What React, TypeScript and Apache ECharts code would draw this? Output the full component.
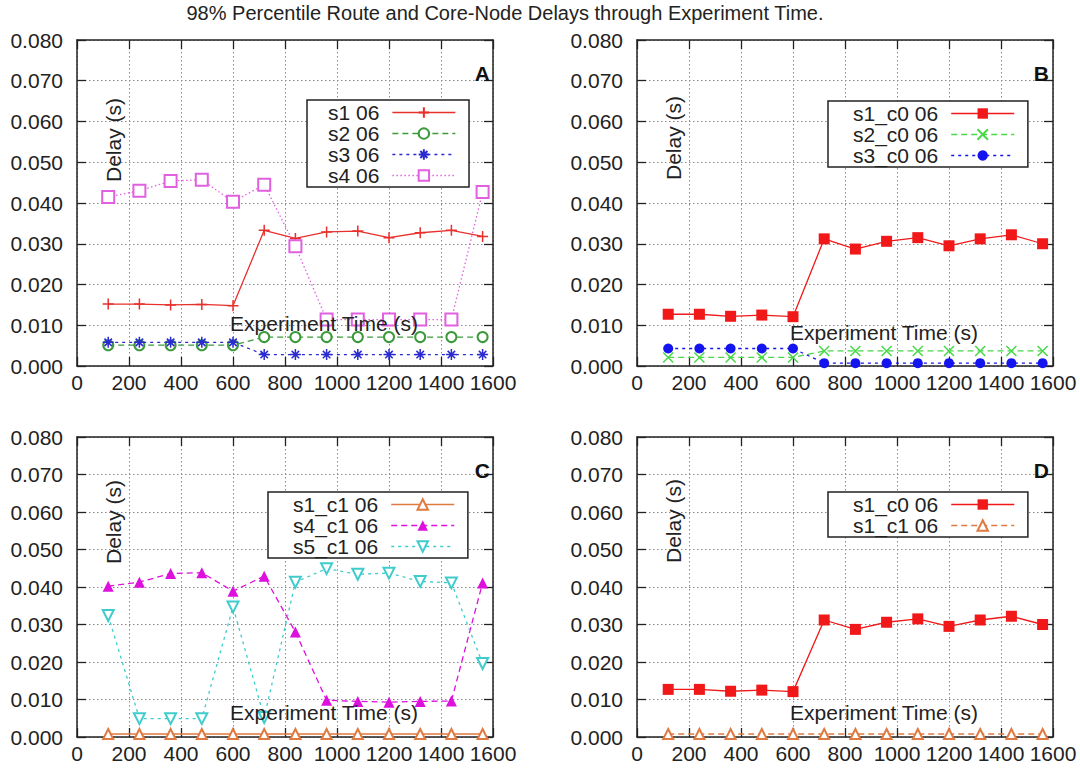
import React, { useEffect, useRef } from 'react';
import * as echarts from 'echarts';

// ---- data ----
const times = [120, 240, 360, 480, 600, 720, 840, 960, 1080, 1200, 1320, 1440, 1560];
const xTickLabels = ['0', '200', '400', '600', '800', '1000', '1200', '1400', '1600'];
const yTickLabels = ['0.000', '0.010', '0.020', '0.030', '0.040', '0.050', '0.060', '0.070', '0.080'];

// Panel A
const s1_06 = [0.0152, 0.0152, 0.0150, 0.0151, 0.0148, 0.0333, 0.0313, 0.0329, 0.0331, 0.0315, 0.0327, 0.0333, 0.0318];
const s2_06 = [0.0051, 0.0051, 0.0051, 0.0051, 0.0051, 0.0071, 0.0071, 0.0071, 0.0071, 0.0071, 0.0071, 0.0071, 0.0071];
const s3_06 = [0.0058, 0.0058, 0.0058, 0.0058, 0.0058, 0.0028, 0.0028, 0.0028, 0.0028, 0.0028, 0.0028, 0.0028, 0.0028];
const s4_06 = [0.0415, 0.0430, 0.0454, 0.0457, 0.0403, 0.0445, 0.0294, 0.0114, 0.0114, 0.0114, 0.0114, 0.0114, 0.0427];
// Panel B (and D)
const s1_c0_06 = [0.0127, 0.0127, 0.0122, 0.0125, 0.0121, 0.0312, 0.0287, 0.0306, 0.0315, 0.0295, 0.0312, 0.0322, 0.0300];
const s2_c0_06 = [0.0021, 0.0021, 0.0021, 0.0021, 0.0021, 0.0037, 0.0037, 0.0037, 0.0037, 0.0037, 0.0037, 0.0037, 0.0037];
const s3_c0_06 = [0.0043, 0.0043, 0.0043, 0.0043, 0.0043, 0.0007, 0.0007, 0.0007, 0.0007, 0.0007, 0.0007, 0.0007, 0.0007];
// Panel C (and D)
const s1_c1_06 = [0.0008, 0.0008, 0.0008, 0.0008, 0.0008, 0.0008, 0.0008, 0.0008, 0.0008, 0.0008, 0.0008, 0.0008, 0.0008];
const s4_c1_06 = [0.0402, 0.0413, 0.0436, 0.0438, 0.0389, 0.0429, 0.0280, 0.0098, 0.0095, 0.0093, 0.0095, 0.0096, 0.0411];
const s5_c1_06 = [0.0324, 0.0049, 0.0049, 0.0049, 0.0347, 0.0052, 0.0413, 0.0449, 0.0434, 0.0437, 0.0415, 0.0411, 0.0196];

const TITLE = '98% Percentile Route and Core-Node Delays through Experiment Time.';
const FONT = '"Liberation Sans", Arial, sans-serif';
const INK = '#222';

const PLUS = 'path://M0,5L10,5M5,0L5,10';
const STAR = 'path://M0,5L10,5M5,0L5,10M1.6,1.6L8.4,8.4M1.6,8.4L8.4,1.6';
const CROSS = 'path://M0,0L10,10M0,10L10,0';

const grids = [
  { left: 77, top: 40, width: 416, height: 326 },
  { left: 637, top: 40, width: 416, height: 326 },
  { left: 77, top: 437, width: 416, height: 300 },
  { left: 637, top: 437, width: 416, height: 300 },
];

const frameLine = { show: true, onZero: false, lineStyle: { color: INK, width: 1.5 } };
const inTick = { show: true, inside: true, length: 9, lineStyle: { color: INK, width: 1.3 } };
const gridLine = { show: true, lineStyle: { color: '#8a8a8a', width: 1, type: [1.5, 2.5] } };

function makeXAxes(i: number) {
  return [
    {
      type: 'value', gridIndex: i, min: 0, max: 1600, interval: 200, position: 'bottom',
      axisLine: frameLine, axisTick: inTick, splitLine: gridLine,
      axisLabel: {
        show: true, margin: 6, color: INK, fontSize: 21, fontFamily: FONT,
        formatter: (v: number) => xTickLabels[Math.round(v / 200)],
      },
    },
    {
      type: 'value', gridIndex: i, min: 0, max: 1600, interval: 200, position: 'top',
      axisLine: frameLine, axisTick: inTick, splitLine: { show: false }, axisLabel: { show: false },
    },
  ];
}

function makeYAxes(i: number) {
  return [
    {
      type: 'value', gridIndex: i, min: 0, max: 0.08, interval: 0.01, position: 'left',
      axisLine: frameLine, axisTick: inTick, splitLine: gridLine,
      axisLabel: {
        show: true, margin: 14, color: INK, fontSize: 21, fontFamily: FONT,
        formatter: (v: number) => yTickLabels[Math.round(v / 0.01)],
      },
    },
    {
      type: 'value', gridIndex: i, min: 0, max: 0.08, interval: 0.01, position: 'right',
      axisLine: frameLine, axisTick: inTick, splitLine: { show: false }, axisLabel: { show: false },
    },
  ];
}

function lineSeries(
  name: string, values: number[], panel: number, color: string, dash: any,
  symbol: string, extra: any = {}
) {
  const isPath = symbol.startsWith('path://');
  return {
    type: 'line', name,
    xAxisIndex: panel * 2, yAxisIndex: panel * 2,
    data: times.map((t, k) => [t, values[k]]),
    symbol, symbolSize: extra.symbolSize || 10, symbolRotate: extra.symbolRotate || 0,
    showSymbol: true,
    lineStyle: { color, width: 1.3, type: dash },
    itemStyle: isPath
      ? { color, borderColor: color, borderWidth: 1.5 }
      : { color, borderColor: color, borderWidth: extra.borderWidth ?? 1.5 },
    emphasis: { disabled: true },
    z: extra.z || 3,
  };
}

const RED = '#e8302c';
const RED2 = '#f01818';
const GREEN = '#3c9a3c';
const LGREEN = '#48d848';
const BLUE = '#2a2ad0';
const BLUE2 = '#1414ee';
const MAG = '#e060e0';
const MAG2 = '#dd10dd';
const ORANGE = '#e07a40';
const CYAN = '#40cccc';

const DASHED = [6, 4];
const DOTDASH = [3, 4];
const DOTTED = [1.5, 2.5];

function makeLegend(left: number, top: number, padLeft: number, data: any[]) {
  return {
    orient: 'vertical', left, top, align: 'right',
    itemWidth: 63, itemHeight: 13, itemGap: 0,
    padding: [2, 13, 1, padLeft],
    backgroundColor: '#fff', borderColor: INK, borderWidth: 1.5, borderRadius: 0,
    selectedMode: false,
    lineStyle: { width: 1.3 },
    textStyle: { fontSize: 21, fontFamily: FONT, color: INK, padding: [0, 8, 0, 0] },
    data,
  };
}

function panelTexts() {
  const delay = [
    [113, 140], [673, 138], [113, 522], [673, 521],
  ];
  const exp = [
    [324, 323], [884, 332], [324, 712], [884, 712],
  ];
  const letters = [
    ['A', 490, 73], ['B', 1049, 73], ['C', 490, 470], ['D', 1049, 470],
  ];
  const out: any[] = [];
  delay.forEach(([x, y]) => out.push({
    type: 'text', x, y, rotation: Math.PI / 2, z: 10,
    style: { text: 'Delay (s)', fontSize: 21, fontFamily: FONT, fill: INK, align: 'center', verticalAlign: 'middle' },
  }));
  exp.forEach(([x, y]) => out.push({
    type: 'text', x, y, z: 10,
    style: { text: 'Experiment Time (s)', fontSize: 21, fontFamily: FONT, fill: INK, align: 'center', verticalAlign: 'middle' },
  }));
  letters.forEach(([t, x, y]) => out.push({
    type: 'text', x, y, z: 10,
    style: { text: t, fontSize: 21, fontWeight: 'bold', fontFamily: FONT, fill: '#111', align: 'right', verticalAlign: 'middle' },
  }));
  return out;
}

export default function App() {
  const ref = useRef<HTMLDivElement>(null);
  useEffect(() => {
    if (!ref.current) return;
    const chart = echarts.init(ref.current, null, { renderer: 'svg' });
    const option: any = {
      animation: false,
      backgroundColor: '#fff',
      title: {
        text: TITLE, left: 505, top: 3, padding: 0, textAlign: 'center',
        textStyle: { fontSize: 20, fontWeight: 'normal', fontFamily: FONT, color: INK },
      },
      grid: grids,
      xAxis: [0, 1, 2, 3].flatMap(makeXAxes),
      yAxis: [0, 1, 2, 3].flatMap(makeYAxes),
      legend: [
        makeLegend(307, 100, 21, ['s1 06', 's2 06', 's3 06', 's4 06']),
        makeLegend(828, 101, 25, ['s1_c0 06', 's2_c0 06', 's3_c0 06']),
        makeLegend(268, 492, 25, ['s1_c1 06', 's4_c1 06', 's5_c1 06']),
        makeLegend(828, 492, 25, [{ name: 's1_c0 06' }, { name: 's1_c1 06', lineStyle: { type: DASHED, color: ORANGE, width: 1.3 } }]),
      ],
      series: [
        lineSeries('s1 06', s1_06, 0, RED, 'solid', PLUS, { symbolSize: 11 }),
        lineSeries('s2 06', s2_06, 0, GREEN, DASHED, 'emptyCircle', { symbolSize: 10 }),
        lineSeries('s3 06', s3_06, 0, BLUE, DOTDASH, STAR, { symbolSize: 11 }),
        lineSeries('s4 06', s4_06, 0, MAG, DOTTED, 'emptyRect', { symbolSize: 12 }),

        lineSeries('s1_c0 06', s1_c0_06, 1, RED2, 'solid', 'rect', { symbolSize: 11, borderWidth: 0 }),
        lineSeries('s2_c0 06', s2_c0_06, 1, LGREEN, DASHED, CROSS, { symbolSize: 10 }),
        lineSeries('s3_c0 06', s3_c0_06, 1, BLUE2, DOTDASH, 'circle', { symbolSize: 10, borderWidth: 0 }),

        lineSeries('s1_c1 06', s1_c1_06, 2, ORANGE, 'solid', 'emptyTriangle', { symbolSize: 10 }),
        lineSeries('s4_c1 06', s4_c1_06, 2, MAG2, DASHED, 'triangle', { symbolSize: 11, borderWidth: 0 }),
        lineSeries('s5_c1 06', s5_c1_06, 2, CYAN, DOTDASH, 'emptyTriangle', { symbolSize: 11, symbolRotate: 180 }),

        lineSeries('s1_c0 06', s1_c0_06, 3, RED2, 'solid', 'rect', { symbolSize: 11, borderWidth: 0 }),
        lineSeries('s1_c1 06', s1_c1_06, 3, ORANGE, DASHED, 'emptyTriangle', { symbolSize: 10 }),
      ],
      graphic: panelTexts(),
    };
    chart.setOption(option);
    return () => chart.dispose();
  }, []);
  return (
    <div
      ref={ref}
      style={{ position: 'fixed', left: 0, top: 0, width: 1080, height: 771, background: '#fff' }}
    />
  );
}
